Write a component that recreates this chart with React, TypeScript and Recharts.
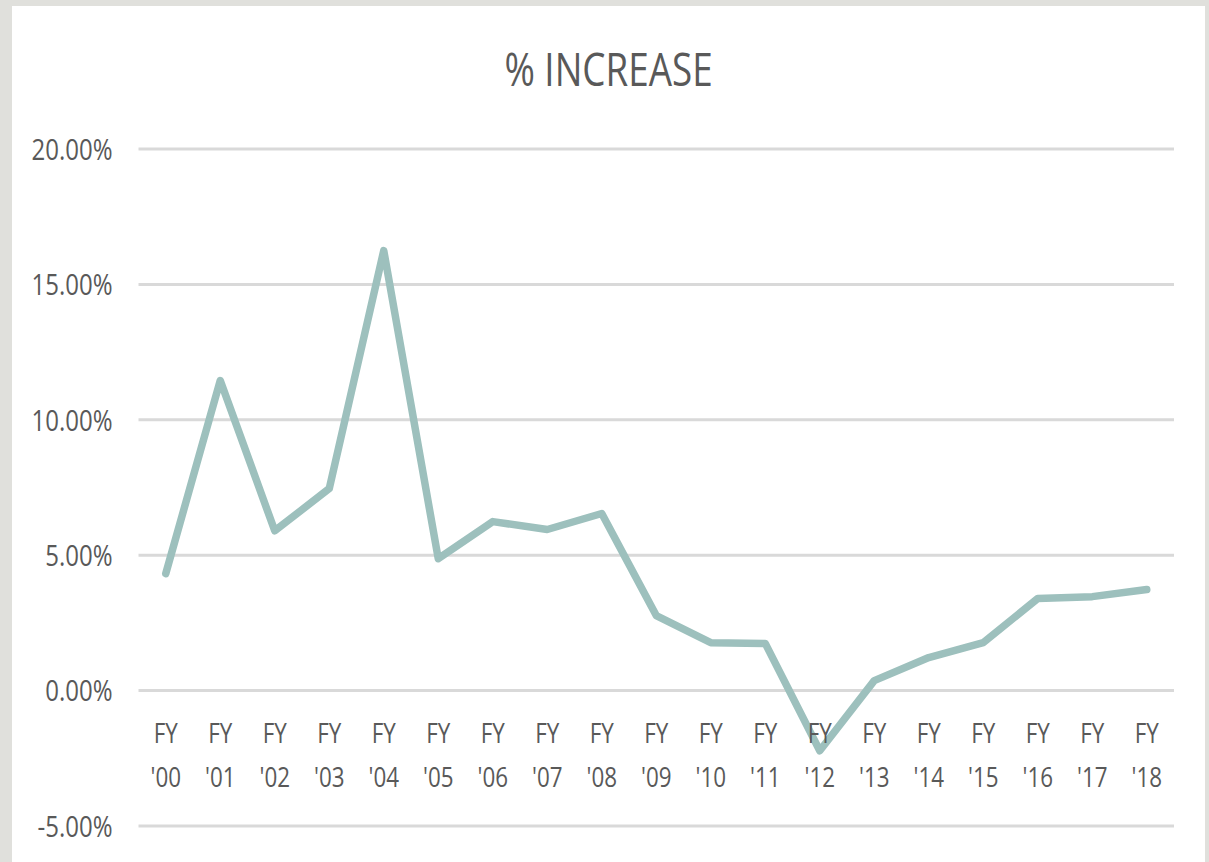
import { LineChart, Line, XAxis, YAxis, CartesianGrid } from 'recharts';

const years = ["'00", "'01", "'02", "'03", "'04", "'05", "'06", "'07", "'08", "'09", "'10", "'11", "'12", "'13", "'14", "'15", "'16", "'17", "'18"];
const increase = [4.32, 11.45, 5.9, 7.46, 16.25, 4.87, 6.24, 5.95, 6.54, 2.77, 1.77, 1.74, -2.22, 0.37, 1.22, 1.77, 3.4, 3.47, 3.73];
const yTicks = [-5, 0, 5, 10, 15, 20];

const data = years.map((y, i) => ({ label: y, value: increase[i] }));

// no Calibri here, so squeeze Open Sans horizontally to get close
const FONT = '"Open Sans", "Noto Sans", sans-serif';
const TEXT = '#595959';
const SQUEEZE = 0.8;

// two-line category label, sits just under the 0% line like Excel does
const FyTick = (props: any) => {
  const { x, y, payload } = props;
  return (
    <g transform={`translate(${x},${y}) scale(${SQUEEZE},1)`}>
      <text x={0} y={-83} textAnchor="middle" fill={TEXT} fontSize={28} fontFamily={FONT}>FY</text>
      <text x={0} y={-39} textAnchor="middle" fill={TEXT} fontSize={28} fontFamily={FONT}>{payload.value}</text>
    </g>
  );
};

const PctTick = (props: any) => {
  const { x, y, payload } = props;
  return (
    <text
      transform={`translate(${x},${y}) scale(${SQUEEZE},1)`}
      x={0}
      y={0}
      dy="0.36em"
      textAnchor="end"
      fill={TEXT}
      fontSize={30}
      fontFamily={FONT}
    >
      {`${Number(payload.value).toFixed(2)}%`}
    </text>
  );
};

const App = () => {
  return (
    <div style={{ position: 'absolute', left: 0, top: 0, width: 1209, height: 862, background: '#e0e0dc', overflow: 'hidden' }}>
      <div style={{ position: 'absolute', left: 12, top: 6, width: 1193, height: 856, background: '#fff' }}>
        {/* Title */}
        <div
          style={{
            position: 'absolute', left: 0, top: 34, width: 1193, textAlign: 'center',
            fontFamily: FONT, fontSize: 46, color: TEXT, lineHeight: '56px',
            transform: `scaleX(${SQUEEZE})`,
          }}
        >
          % INCREASE
        </div>

        {/* Chart */}
        <LineChart width={1193} height={856} data={data} margin={{ top: 143, right: 31, bottom: 6, left: 0 }}>
          <CartesianGrid vertical={false} stroke="#d9d9d9" strokeWidth={3} />
          <XAxis
            dataKey="label"
            interval={0}
            axisLine={false}
            tickLine={false}
            tickSize={0}
            tickMargin={0}
            height={30}
            padding={{ left: 27.25, right: 27.25 }}
            tick={<FyTick />}
          />
          <YAxis
            domain={[-5, 20]}
            ticks={yTicks}
            width={126.5}
            axisLine={false}
            tickLine={false}
            tickSize={0}
            tickMargin={26}
            tick={<PctTick />}
          />
          <Line
            type="linear"
            dataKey="value"
            stroke="#9dc0bd"
            strokeWidth={7.5}
            strokeLinecap="round"
            strokeLinejoin="round"
            dot={false}
            isAnimationActive={false}
          />
        </LineChart>
      </div>
    </div>
  );
};

export default App;
